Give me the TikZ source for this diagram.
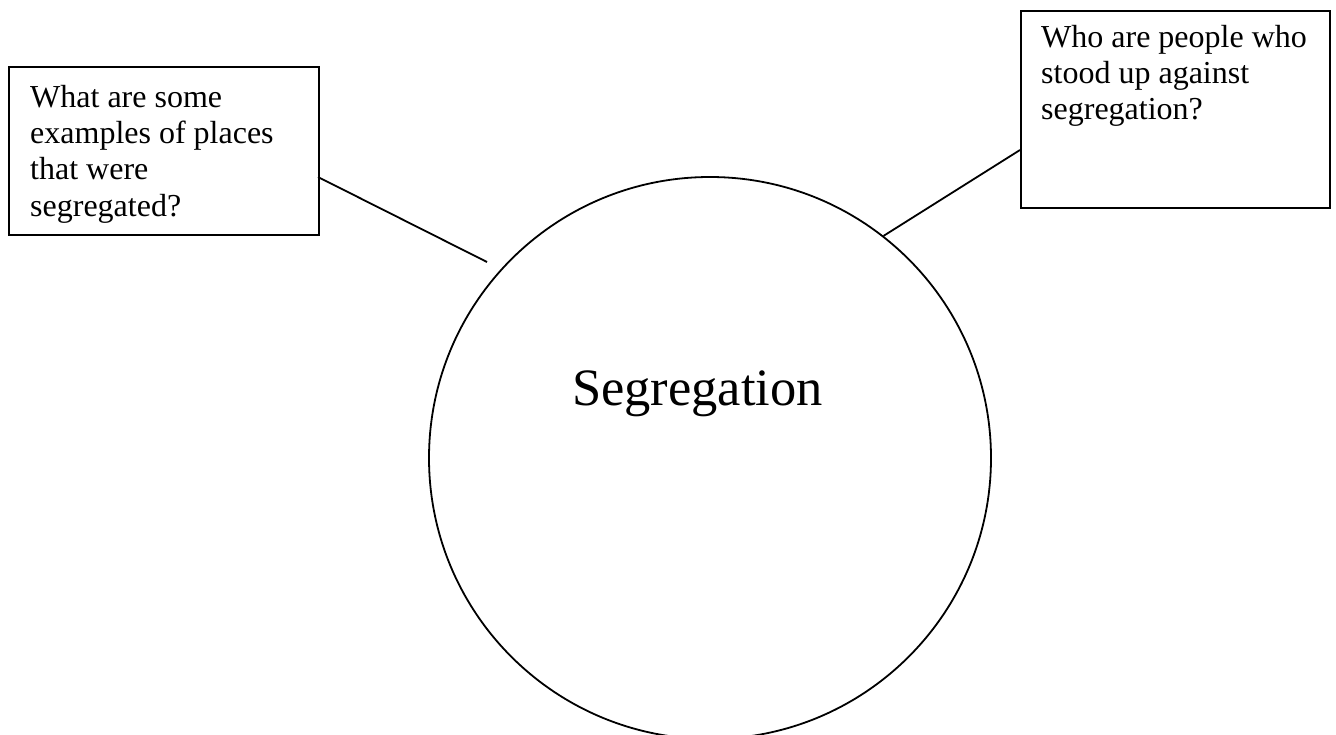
\documentclass[tikz,border=0pt]{standalone}
\usepackage{fontspec}
\setmainfont{Liberation Serif}
\begin{document}
\begin{tikzpicture}[x=1pt,y=-1pt,
  qbox/.style={draw,line width=2pt,rectangle,inner sep=0pt,anchor=north west},
  qtext/.style={anchor=north west,inner sep=0pt,align=left,font=\fontsize{32}{36.3}\selectfont},
  hub/.style={draw,line width=1.8pt,circle,inner sep=0pt,minimum size=562pt},
  link/.style={line width=1.8pt}]
\useasboundingbox (0,0) rectangle (1336,734);
\fill[white] (0,0) rectangle (1336,734);
% boxes
\node[qbox,minimum width=310pt,minimum height=168pt] (q1) at (8,66) {};
\node[qbox,minimum width=309pt,minimum height=197pt] (q2) at (1020,9.5) {};
\node[qtext] (t1) at (30,77) {\rule{0pt}{30pt}What are some\\examples of places\\that were\\segregated?};
\node[qtext] (t2) at (1041,17) {\rule{0pt}{30pt}Who are people who\\stood up against\\segregation?};
% circle
\node[hub] (c) at (710,458) {};
\node[anchor=base west,inner sep=0pt,font=\fontsize{52.5}{60}\selectfont] (ct) at (572,405) {Segregation};
% connectors
\coordinate (la) at (318,177);
\coordinate (lb) at (487,262);
\coordinate (ra) at (1020,150);
\draw[link] (la) -- (lb);
\draw[link] (ra) -- (c.52.8);
\end{tikzpicture}
\end{document}
